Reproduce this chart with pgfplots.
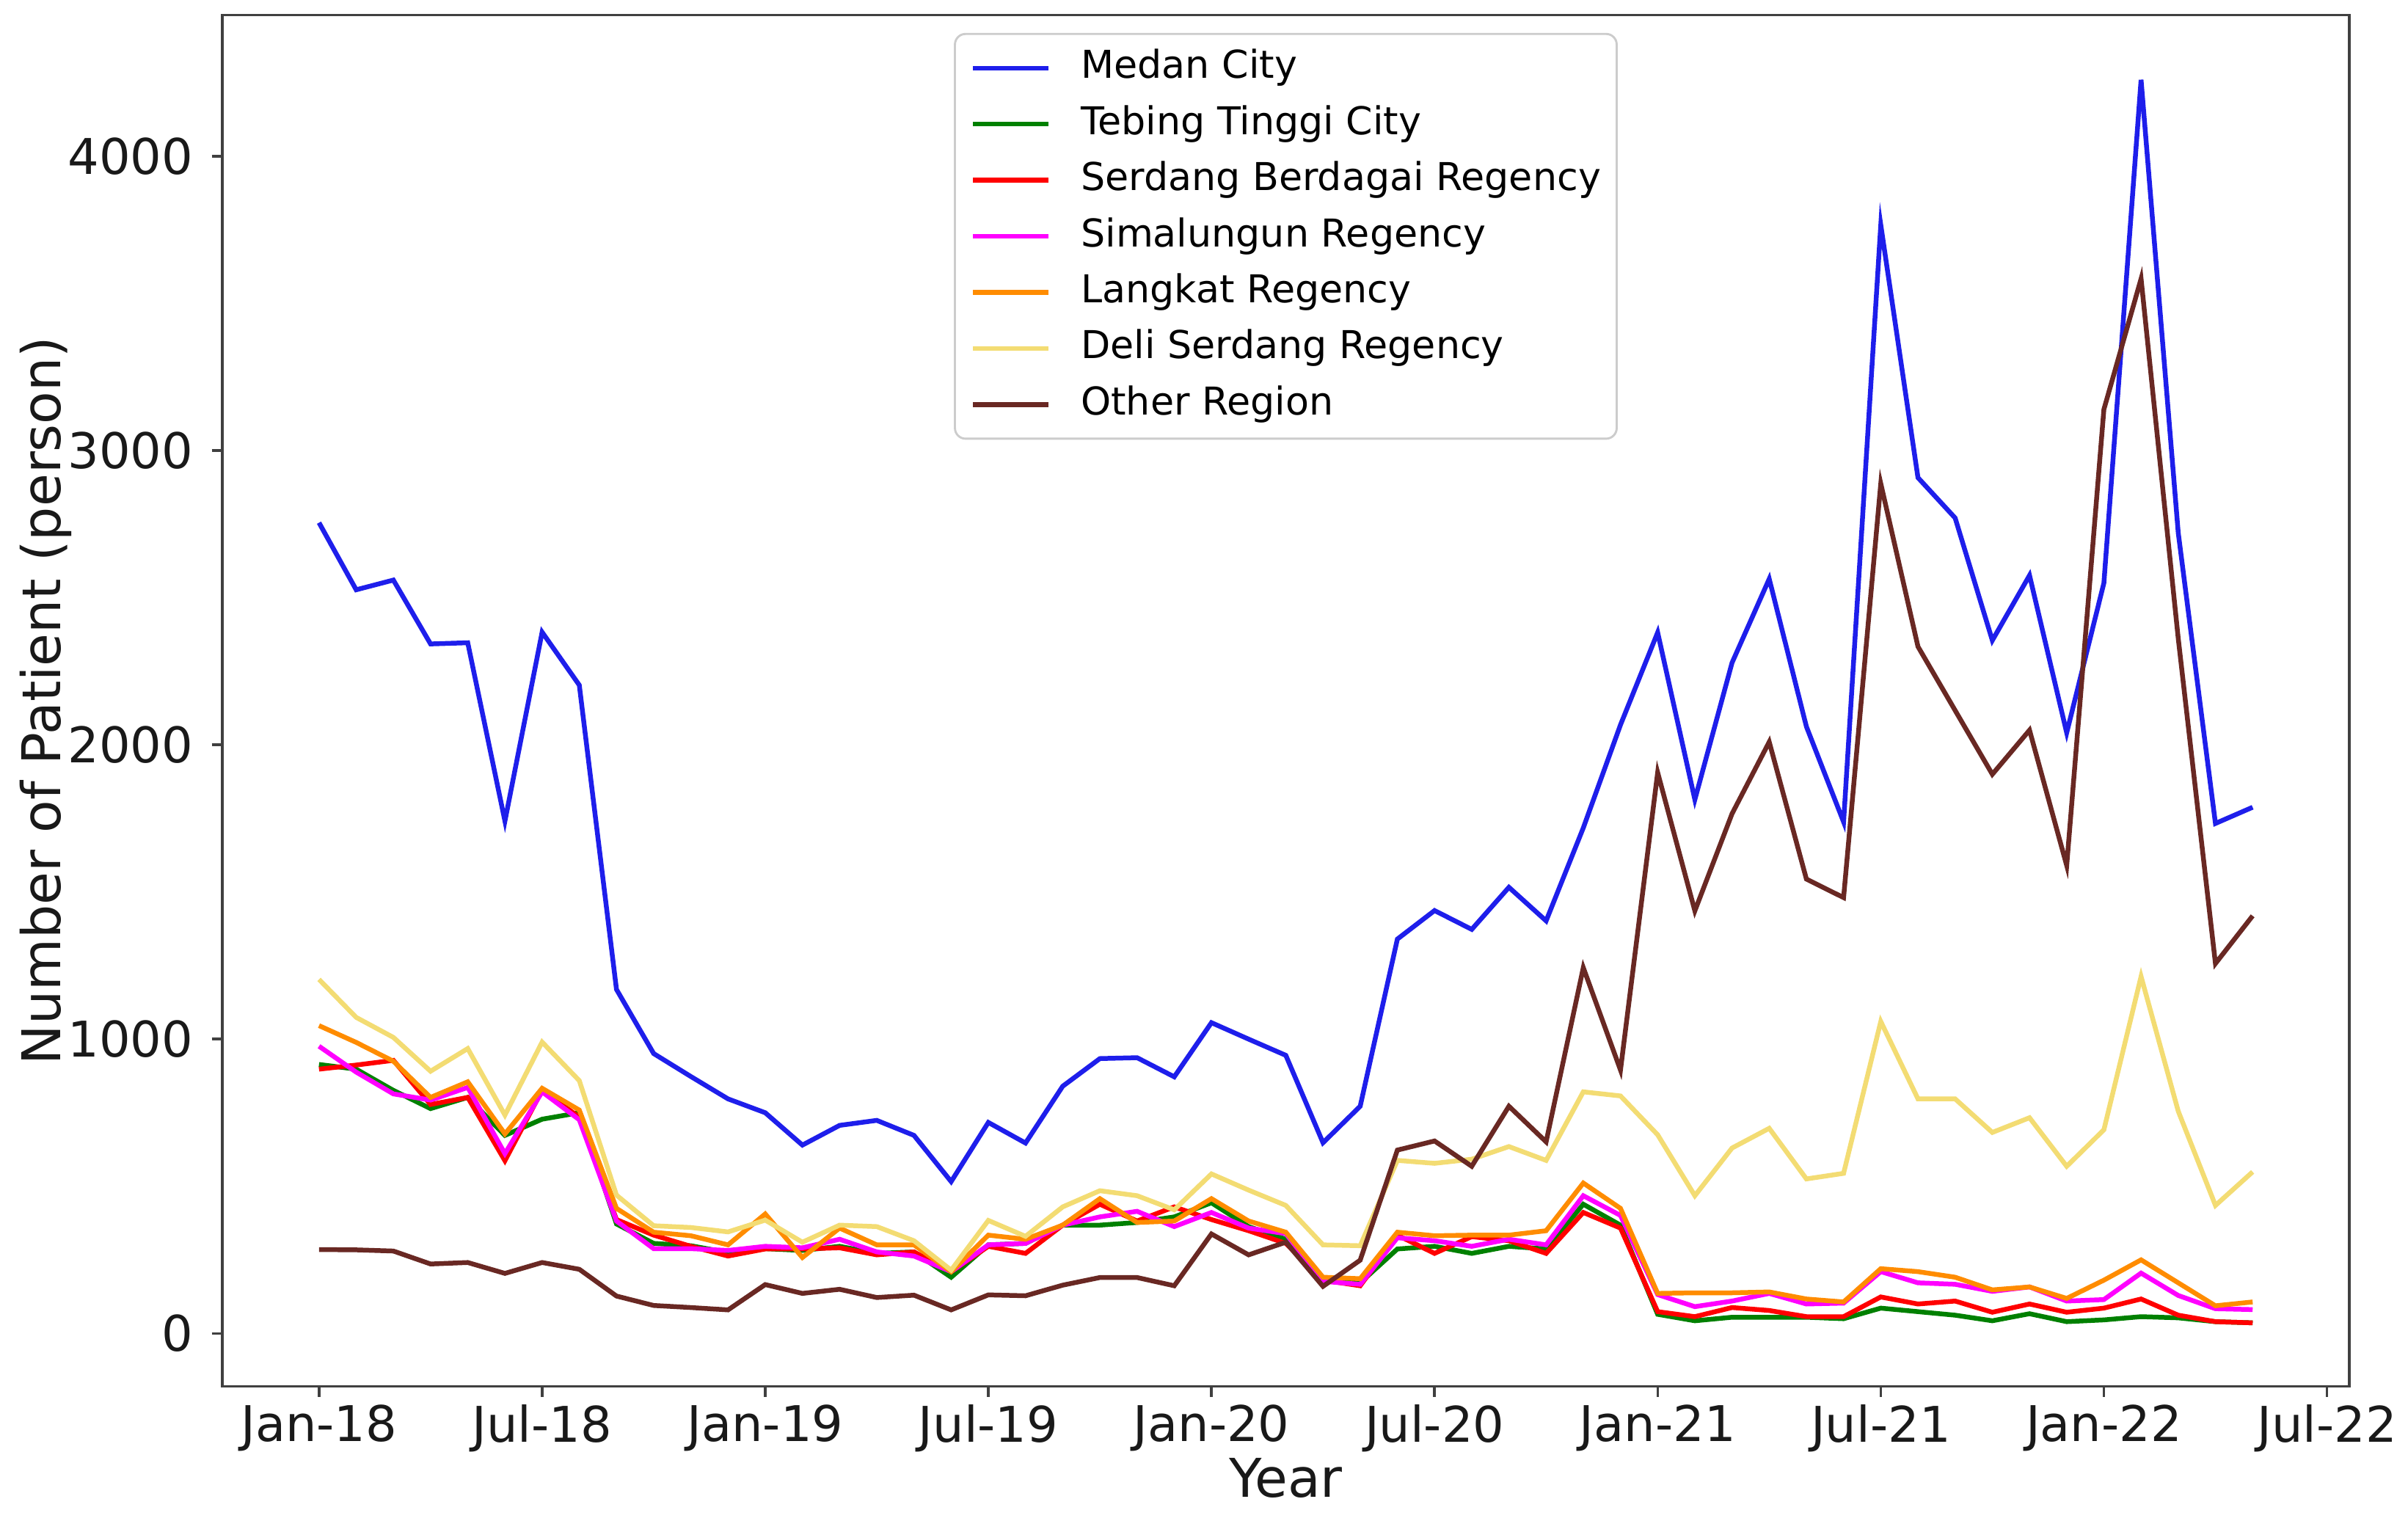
\documentclass[border=0pt]{standalone}
\usepackage{pgfplots}
\usepackage{pgfplotstable}
\pgfplotsset{compat=1.18}
\usepackage{fontspec}
\setmainfont{DejaVu Sans}

\definecolor{cMedan}{RGB}{30,30,235}
\definecolor{cTebing}{RGB}{0,128,0}
\definecolor{cSerdang}{RGB}{255,0,0}
\definecolor{cSimal}{RGB}{255,0,255}
\definecolor{cLangkat}{RGB}{255,140,0}
\definecolor{cDeli}{RGB}{243,220,115}
\definecolor{cOther}{RGB}{105,40,35}

% monthly patients, i = 0 is Jan-18
\pgfplotstableread{
i  medan tebing serdang simal langkat deli other
0  2755  914  898  976  1046 1203 285
1  2527  898  912  888  989  1074 284
2  2560  826  928  814  925  1006 280
3  2343  764  778  793  802  891  236
4  2347  802  802  836  855  968  241
5  1741  673  587  611  678  742  204
6  2383  728  826  821  833  990  241
7  2203  750  735  726  759  859  218
8  1169  372  387  382  425  470  127
9  951   306  334  288  344  366  95
10 873   298  296  288  332  360  88
11 797   275  263  282  301  345  80
12 750   288  287  296  406  385  166
13 640   282  287  291  258  310  136
14 707   296  291  320  358  368  150
15 724   272  267  277  301  363  122
16 673   277  277  263  301  315  130
17 516   191  210  210  210  215  80
18 717   301  296  301  334  384  131
19 647   306  272  306  320  330  128
20 840   368  368  368  368  430  164
21 934   368  439  396  458  485  190
22 937   377  382  415  377  468  190
23 872   396  430  363  382  420  162
24 1056  444  387  411  458  542  338
25 1000  363  349  358  382  487  267
26 945   320  306  339  344  435  310
27 648   186  181  177  191  301  160
28 772   172  162  167  186  298  249
29 1340  287  334  325  344  588  623
30 1437  296  272  315  332  578  654
31 1373  272  329  296  334  592  568
32 1516  296  315  320  334  635  772
33 1402  287  272  301  349  588  651
34 1718  439  411  468  511  821  1243
35 2068  368  358  401  425  807  895
36 2382  65   74   132  136  675  1906
37 1814  43   57   91   138  468  1436
38 2279  55   88   110  138  630  1766
39 2564  55   78   136  141  697  2010
40 2062  55   57   100  117  525  1544
41 1738  50   57   103  107  544  1481
42 3767  86   124  210  220  1060 2888
43 2908  74   100  172  210  797  2334
44 2771  62   110  167  191  797  2117
45 2355  43   72   143  148  683  1900
46 2576  67   100  158  158  733  2050
47 2041  40   72   110  119  568  1590
48 2550  46   86   115  181  692  3140
49 4260  57   117  205  250  1213 3584
50 2720  53   62   129  172  755  2361
51 1733  40   40   84   94   435  1257
52 1788  36   36   81   107  549  1419
}\patients

\begin{document}
\begin{tikzpicture}
\begin{axis}[
  name=ax,
  scale only axis,
  width=14.13cm, height=9.11cm,
  xmin=-2.6, xmax=54.6,
  ymin=-180, ymax=4480,
  xtick={0,6,...,54},
  xticklabels={Jan-18,Jul-18,Jan-19,Jul-19,Jan-20,Jul-20,Jan-21,Jul-21,Jan-22,Jul-22},
  ytick={0,1000,2000,3000,4000},
  scaled y ticks=false,
  /pgf/number format/assume math mode=true,
  /pgf/number format/1000 sep={},
  tick align=outside,
  tick pos=left,
  major tick length=2pt,
  axis line style={black!75, line width=0.5pt},
  every tick/.style={black!75, line width=0.5pt},
  tick label style={font=\fontsize{9.3}{10.5}\selectfont, text=black!90},
  xticklabel style={yshift=2pt},
  label style={font=\fontsize{10.1}{11.5}\selectfont, text=black!90},
  xlabel={Year},
  ylabel={Number of Patient (person)},
  xlabel style={at={(axis description cs:0.5,-0.067)}, anchor=center},
  ylabel style={at={(axis description cs:-0.083,0.5)}, anchor=center},
  legend style={
    at={(axis description cs:0.5,0.987)}, anchor=north,
    font=\fontsize{7.25}{8.5}\selectfont,
    draw=black!20, rounded corners=2pt, fill=white,
    inner xsep=3pt, inner ysep=3pt,
    row sep=3.7pt,
    nodes={anchor=west, inner sep=0pt, text height=5.4pt, text depth=1.5pt},
    /tikz/every odd column/.append style={column sep=0.2cm},
  },
  legend cell align=left,
  legend image code/.code={\draw[#1, line width=0.9pt] (0cm,0cm) -- (0.5cm,0cm);},
  every axis plot/.append style={line width=0.9pt, mark=none},
]
\addplot[cMedan]   table[x=i, y=medan]   {\patients};
\addlegendentry{Medan City}
\addplot[cTebing]  table[x=i, y=tebing]  {\patients};
\addlegendentry{Tebing Tinggi City}
\addplot[cSerdang] table[x=i, y=serdang] {\patients};
\addlegendentry{Serdang Berdagai Regency}
\addplot[cSimal]   table[x=i, y=simal]   {\patients};
\addlegendentry{Simalungun Regency}
\addplot[cLangkat] table[x=i, y=langkat] {\patients};
\addlegendentry{Langkat Regency}
\addplot[cDeli]    table[x=i, y=deli]    {\patients};
\addlegendentry{Deli Serdang Regency}
\addplot[cOther]   table[x=i, y=other]   {\patients};
\addlegendentry{Other Region}
\end{axis}
\pgfresetboundingbox
\useasboundingbox ([xshift=-1.477cm, yshift=-0.89cm]ax.south west) rectangle ([xshift=0.39cm, yshift=0.1cm]ax.north east);
\end{tikzpicture}
\end{document}
